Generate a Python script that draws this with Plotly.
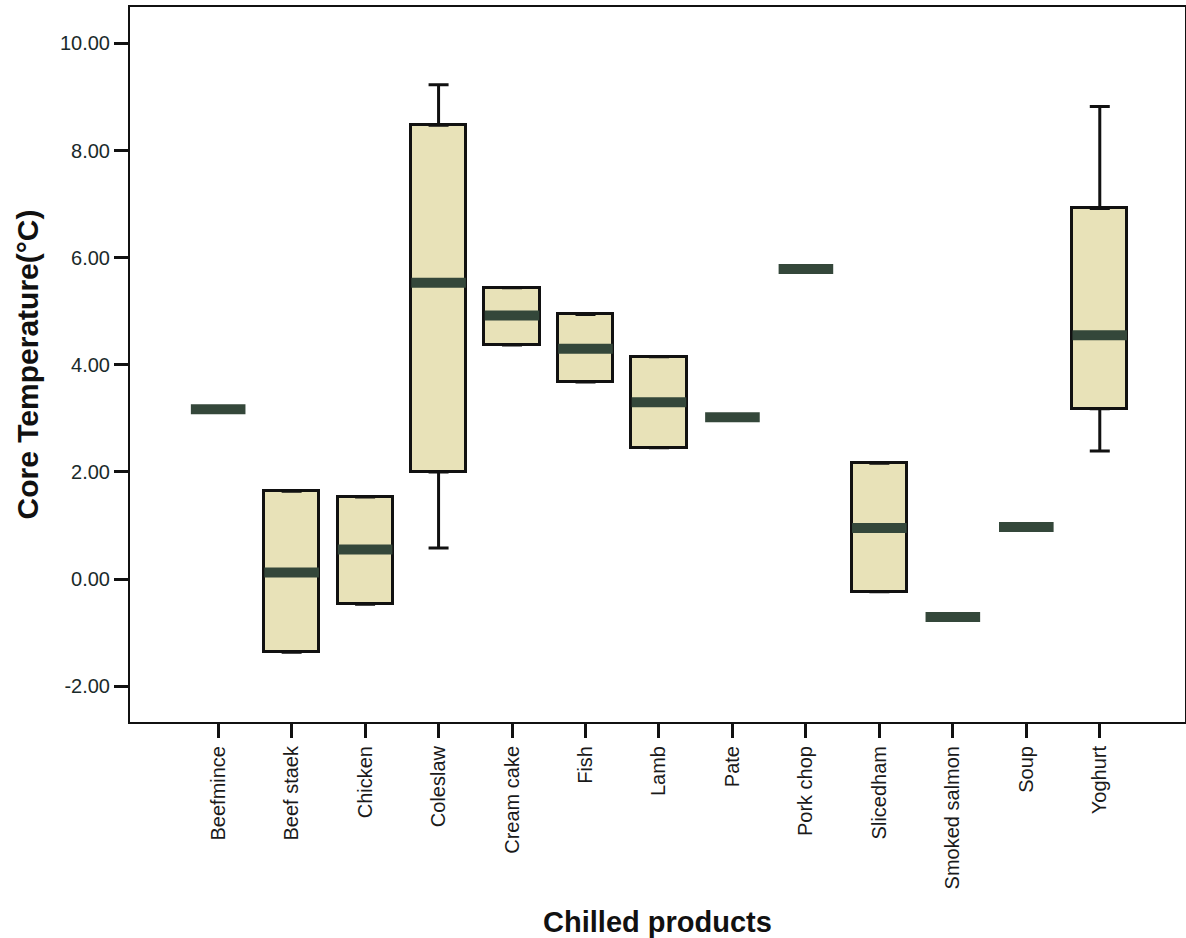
import plotly.graph_objects as go

categories = ["Beefmince", "Beef staek", "Chicken", "Coleslaw", "Cream cake", "Fish",
              "Lamb", "Pate", "Pork chop", "Slicedham", "Smoked salmon", "Soup", "Yoghurt"]
median = [3.17, 0.12, 0.55, 5.53, 4.92, 4.30, 3.30, 3.02, 5.79, 0.95, -0.71, 0.97, 4.55]
q1 = [None, -1.37, -0.47, 2.00, 4.37, 3.68, 2.45, None, None, -0.24, None, None, 3.18]
q3 = [None, 1.64, 1.53, 8.47, 5.44, 4.94, 4.15, None, None, 2.16, None, None, 6.92]
whisker_low = [None, None, None, 0.58, None, None, None, None, None, None, None, None, 2.39]
whisker_high = [None, None, None, 9.23, None, None, None, None, None, None, None, None, 8.82]
y_ticks = [-2, 0, 2, 4, 6, 8, 10]
y_tick_labels = ["-2.00", "0.00", "2.00", "4.00", "6.00", "8.00", "10.00"]

box_h = [None if a is None else b - a for a, b in zip(q1, q3)]
up_len = [None if w is None else w - t for w, t in zip(whisker_high, q3)]
low_len = [None if w is None else b - w for w, b in zip(whisker_low, q1)]
zeros = [0] * len(categories)

FONT = "Liberation Sans, Arial, sans-serif"
fig = go.Figure()

fig.add_trace(go.Bar(
    x=categories, y=box_h, base=q1, width=0.75,
    marker=dict(color="#e8e2b8", line=dict(color="#111111", width=3)),
    hoverinfo="skip", showlegend=False))

fig.add_trace(go.Scatter(
    x=categories, y=q3, mode="markers",
    marker=dict(size=1, color="rgba(0,0,0,0)"),
    error_y=dict(type="data", symmetric=False, array=up_len, arrayminus=zeros,
                 color="#111111", thickness=3, width=10),
    showlegend=False, hoverinfo="skip"))

fig.add_trace(go.Scatter(
    x=categories, y=q1, mode="markers",
    marker=dict(size=1, color="rgba(0,0,0,0)"),
    error_y=dict(type="data", symmetric=False, array=zeros, arrayminus=low_len,
                 color="#111111", thickness=3, width=10),
    showlegend=False, hoverinfo="skip"))

fig.add_trace(go.Scatter(
    x=categories, y=median, mode="markers",
    marker=dict(symbol="line-ew", size=39,
                line=dict(color="#34473a", width=10)),
    showlegend=False, hoverinfo="skip"))

fig.update_layout(
    width=1186, height=938,
    margin=dict(l=130, r=1, t=7, b=216),
    paper_bgcolor="white", plot_bgcolor="white",
    font=dict(family=FONT, color="#1a1a1a"),
    bargap=0,
)
fig.update_xaxes(
    type="category", categoryorder="array", categoryarray=categories,
    range=[-1.2, 13.16], tickangle=-90, automargin=False,
    tickfont=dict(size=20, family=FONT, color="#1a1a1a"),
    ticks="outside", ticklen=14, tickwidth=3, tickcolor="#111111",
    showline=True, linecolor="#111111", linewidth=2, mirror=True,
    showgrid=False, zeroline=False,
    title=dict(text="Chilled products", font=dict(size=29, family=FONT, weight="bold", color="#111111"), standoff=30),
)
fig.update_yaxes(
    range=[-2.67, 10.68], tickvals=y_ticks, ticktext=y_tick_labels, automargin=False,
    tickfont=dict(size=20, family=FONT, color="#1a2a2a"),
    ticks="outside", ticklen=14, tickwidth=3, tickcolor="#111111",
    showline=True, linecolor="#111111", linewidth=2, mirror=True,
    showgrid=False, zeroline=False,
    title=dict(text="Core Temperature(°C)", font=dict(size=30, family=FONT, weight="bold", color="#111111"), standoff=12),
)

fig.write_html("out.html")
